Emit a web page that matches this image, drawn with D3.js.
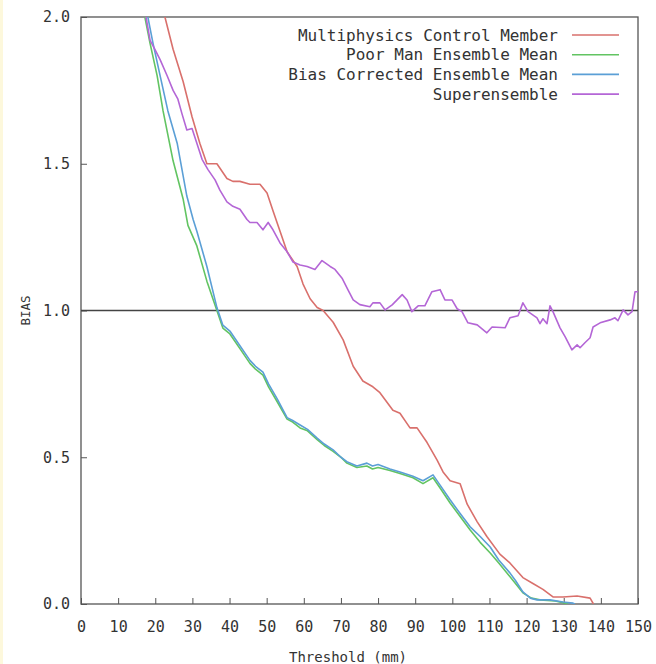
<!DOCTYPE html>
<html>
<head>
<meta charset="utf-8">
<script src="https://cdn.jsdelivr.net/npm/d3@7"></script>
<style>
  html, body { margin: 0; padding: 0; background: #fff; }
  svg { display: block; }
  text { font-family: "DejaVu Sans Mono", "Liberation Mono", monospace; fill: #333; }
</style>
</head>
<body>
<div id="chart"></div>
<script>
// threshold (mm), bias
const controlMember = [
  [22.6, 2.0], [24.8, 1.89], [27.5, 1.78], [29.9, 1.66], [32, 1.57], [33.9, 1.50], [36.6, 1.50],
  [39.3, 1.45], [40.9, 1.44], [42.8, 1.44], [45.5, 1.43], [48.2, 1.43], [50.1, 1.40], [51.7, 1.34],
  [53.6, 1.27], [55.5, 1.20], [58.2, 1.15], [59.8, 1.09], [61.7, 1.04], [63.6, 1.01], [65.2, 1.0],
  [67.9, 0.96], [70.6, 0.90], [73.3, 0.81], [75.9, 0.76], [78.6, 0.74], [80.5, 0.72], [84, 0.66],
  [85.9, 0.65], [88.6, 0.60], [90.5, 0.60], [93.2, 0.55], [95.9, 0.49], [97.5, 0.45], [99.4, 0.42],
  [102.1, 0.41], [104, 0.34], [106.7, 0.28], [109.3, 0.23], [112.8, 0.17], [115.5, 0.14], [119, 0.09],
  [121.7, 0.07], [124.4, 0.05], [127.1, 0.024], [129.8, 0.024], [133.6, 0.027], [137.1, 0.02], [138, 0]
];

const poorManMean = [
  [17.2, 2.0], [18.6, 1.91], [20.5, 1.80], [22.1, 1.68], [24.8, 1.51], [27.5, 1.38], [28.8, 1.29],
  [31.2, 1.22], [33.9, 1.10], [36.6, 1.00], [38.2, 0.94], [40.1, 0.92], [42.8, 0.87], [45.5, 0.82],
  [47, 0.80], [49, 0.78], [50.5, 0.74], [52.8, 0.69], [55.5, 0.63], [57, 0.62], [59, 0.60], [61, 0.59],
  [63.6, 0.56], [65.5, 0.54], [67.9, 0.52], [70, 0.50], [71.6, 0.48], [74.3, 0.465], [77, 0.47],
  [78.5, 0.46], [80, 0.465], [83.2, 0.455], [85.9, 0.445], [89.4, 0.43], [92.1, 0.41], [94.8, 0.43],
  [96.7, 0.395], [99.4, 0.344], [102, 0.30], [104.8, 0.252], [107.5, 0.21], [110.2, 0.174],
  [112.5, 0.14], [114.7, 0.106], [117, 0.07], [119, 0.038], [121.3, 0.02], [123.6, 0.014],
  [127.7, 0.01], [130.4, 0.003], [131.2, 0]
];

const biasCorrectedMean = [
  [18, 2.0], [19.4, 1.91], [21.3, 1.80], [23.4, 1.68], [25.9, 1.57], [28.5, 1.39], [30.2, 1.31],
  [31.2, 1.27], [33.9, 1.15], [36.6, 1.01], [38.2, 0.95], [40.1, 0.93], [42.8, 0.88], [45.5, 0.83],
  [47, 0.81], [49, 0.79], [50.5, 0.75], [52.8, 0.70], [55.5, 0.635], [57, 0.625], [59, 0.61],
  [61, 0.595], [63.6, 0.565], [65.5, 0.545], [67.9, 0.525], [70, 0.50], [71.6, 0.485], [74.3, 0.47],
  [77, 0.48], [78.5, 0.47], [80, 0.475], [83.2, 0.46], [85.9, 0.45], [89.4, 0.435], [92.1, 0.42],
  [94.8, 0.44], [96.7, 0.405], [99.4, 0.355], [102, 0.31], [104.8, 0.263], [107.5, 0.23],
  [110.2, 0.194], [112.5, 0.15], [115.5, 0.106], [117, 0.08], [119, 0.041], [121, 0.02],
  [122.8, 0.014], [126.3, 0.014], [129.8, 0.007], [132.5, 0.003], [133, 0]
];

const superensemble = [
  [17.5, 2.0], [18.6, 1.92], [19.9, 1.89], [21.3, 1.855], [23.2, 1.80], [24.8, 1.75], [26.1, 1.72],
  [27.2, 1.67], [28.5, 1.615], [29.9, 1.62], [31.2, 1.57], [32.6, 1.515], [34.2, 1.48], [36.1, 1.445],
  [37.4, 1.41], [39.3, 1.37], [40.9, 1.355], [42.8, 1.345], [44.7, 1.31], [45.5, 1.30], [47.4, 1.30],
  [49, 1.275], [50.4, 1.30], [51.7, 1.275], [53.6, 1.23], [55.5, 1.20], [57.1, 1.165], [59, 1.155],
  [60.9, 1.15], [63, 1.14], [64.9, 1.17], [67.1, 1.15], [68.4, 1.14], [70.3, 1.11], [71.9, 1.07],
  [73.3, 1.036], [75.1, 1.02], [77.8, 1.013], [78.6, 1.026], [80.5, 1.026], [81.9, 1.002],
  [83.8, 1.019], [86.5, 1.054], [87.8, 1.036], [89.1, 0.996], [90.8, 1.016], [92.6, 1.016],
  [94.5, 1.064], [96.7, 1.071], [98, 1.036], [99.9, 1.036], [101.3, 1.006], [102.6, 0.996],
  [104.2, 0.958], [106.7, 0.951], [109.3, 0.924], [110.7, 0.944], [114.2, 0.941], [115.5, 0.975],
  [117.7, 0.982], [119, 1.026], [120.4, 0.996], [122.8, 0.975], [123.6, 0.955], [124.4, 0.972],
  [125.5, 0.955], [126.3, 1.016], [127.1, 0.996], [129, 0.941], [130.4, 0.91], [132.2, 0.866],
  [133.6, 0.883], [134.4, 0.873], [135.7, 0.89], [137.1, 0.907], [137.9, 0.944], [139.8, 0.958],
  [142.5, 0.968], [143.8, 0.975], [144.6, 0.965], [146, 1.002], [147.3, 0.985], [148.4, 0.996],
  [149.2, 1.064], [150, 1.064]
];

const seriesNames = ["Multiphysics Control Member", "Poor Man Ensemble Mean", "Bias Corrected Ensemble Mean", "Superensemble"];
const seriesColors = ["#d9706c", "#62c462", "#5b9fd6", "#b466d6"];
const seriesData = [controlMember, poorManMean, biasCorrectedMean, superensemble];

const xTicks = d3.range(0, 151, 10);
const yTicks = [0, 0.5, 1.0, 1.5, 2.0];

const W = 656, H = 664;
const svg = d3.select("#chart").append("svg").attr("width", W).attr("height", H);

svg.append("rect").attr("width", W).attr("height", H).attr("fill", "#fff");
svg.append("rect").attr("width", 3).attr("height", H).attr("fill", "#fdf8dc");

const x = d3.scaleLinear().domain([0, 150]).range([81, 638]);
const y = d3.scaleLinear().domain([0, 2]).range([604, 17]);

svg.append("defs").append("clipPath").attr("id", "plot-clip")
  .append("rect")
  .attr("x", x(0)).attr("y", y(2))
  .attr("width", x(150) - x(0)).attr("height", y(0) - y(2));

// ticks (inward)
svg.append("g")
  .attr("transform", `translate(0,${y(0)})`)
  .call(d3.axisBottom(x).tickValues(xTicks).tickSizeInner(-6).tickSizeOuter(0).tickPadding(17).tickFormat(d3.format("d")))
  .call(g => g.select(".domain").remove())
  .call(g => g.selectAll("line").attr("stroke", "#555"))
  .call(g => g.selectAll("text").style("font-size", "15px").attr("fill", "#444"));

svg.append("g")
  .attr("transform", `translate(${x(0)},0)`)
  .call(d3.axisLeft(y).tickValues(yTicks).tickSizeInner(-6).tickSizeOuter(0).tickPadding(11).tickFormat(d3.format(".1f")))
  .call(g => g.select(".domain").remove())
  .call(g => g.selectAll("line").attr("stroke", "#555"))
  .call(g => g.selectAll("text").style("font-size", "15px").attr("fill", "#444"));

// frame
svg.append("rect")
  .attr("x", x(0)).attr("y", y(2))
  .attr("width", x(150) - x(0)).attr("height", y(0) - y(2))
  .attr("fill", "none").attr("stroke", "#555").attr("stroke-width", 1.3);

// reference line at bias 1
svg.append("line")
  .attr("x1", x(0)).attr("x2", x(150))
  .attr("y1", y(1)).attr("y2", y(1))
  .attr("stroke", "#444").attr("stroke-width", 1.3);

const line = d3.line().x(d => x(d[0])).y(d => y(d[1]));

svg.append("g").attr("clip-path", "url(#plot-clip)")
  .selectAll("path")
  .data(seriesData)
  .join("path")
  .attr("fill", "none")
  .attr("stroke", (d, i) => seriesColors[i])
  .attr("stroke-width", 1.6)
  .attr("stroke-linejoin", "round")
  .attr("d", line);

// legend
const legend = svg.append("g");
seriesNames.forEach((name, i) => {
  const ly = 35 + i * 19.7;
  legend.append("text")
    .attr("x", 558).attr("y", ly).attr("dy", "0.35em")
    .attr("text-anchor", "end")
    .style("font-size", "16px")
    .text(name);
  legend.append("line")
    .attr("x1", 572).attr("x2", 619)
    .attr("y1", ly).attr("y2", ly)
    .attr("stroke", seriesColors[i]).attr("stroke-width", 1.6);
});

// axis titles
svg.append("text")
  .attr("x", 348).attr("y", 657)
  .attr("text-anchor", "middle").attr("dy", "0.35em")
  .style("font-size", "14px")
  .text("Threshold (mm)");

svg.append("text")
  .attr("transform", `translate(26,${y(1)}) rotate(-90)`)
  .attr("text-anchor", "middle").attr("dy", "0.35em")
  .style("font-size", "12.5px")
  .text("BIAS");
</script>
</body>
</html>
